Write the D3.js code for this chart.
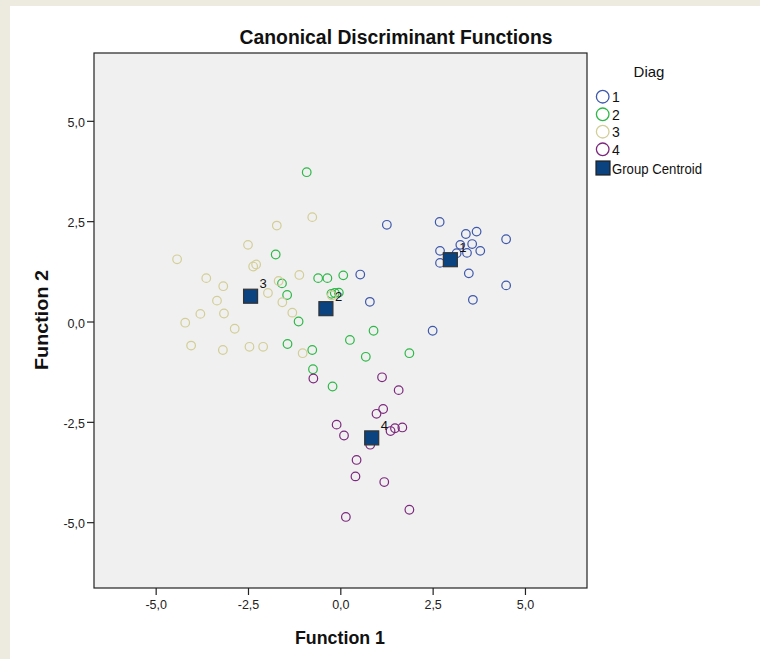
<!DOCTYPE html>
<html><head><meta charset="utf-8">
<script src="https://cdn.jsdelivr.net/npm/d3@7"></script>
<style>
html,body{margin:0;padding:0;background:#EDEAE0;}
svg{display:block;font-family:"Liberation Sans",Arial,sans-serif;}
</style></head>
<body>
<script>
// ---- data ----
const groups = ["1","2","3","4"];
const groupColors = ["#3E58AC","#2EB848","#D3CE97","#7C287D"];
const diag1 = [[1.26,2.41],[2.69,2.48],[3.40,2.18],[3.69,2.24],[4.49,2.05],[3.25,1.91],[3.57,1.93],[2.70,1.76],[3.15,1.70],[3.43,1.71],[3.79,1.76],[2.70,1.46],[3.48,1.20],[4.49,0.90],[0.54,1.17],[0.80,0.49],[3.59,0.54],[2.50,-0.23]];
const diag2 = [[-0.91,3.72],[-1.75,1.67],[-0.60,1.08],[-0.35,1.08],[0.08,1.15],[-1.58,0.95],[-1.44,0.66],[-0.24,0.69],[-0.15,0.71],[-0.04,0.72],[-1.13,0.00],[-1.43,-0.56],[-0.76,-0.71],[-0.74,-1.19],[0.26,-0.46],[0.90,-0.23],[0.69,-0.88],[1.87,-0.79],[-0.21,-1.62]];
const diag3 = [[-0.76,2.60],[-1.72,2.39],[-2.50,1.91],[-4.42,1.55],[-2.36,1.37],[-2.28,1.42],[-3.63,1.08],[-3.17,0.88],[-1.67,1.01],[-1.11,1.16],[-1.96,0.71],[-3.34,0.52],[-1.57,0.48],[-3.79,0.19],[-3.15,0.20],[-1.30,0.22],[-4.20,-0.03],[-2.86,-0.18],[-4.04,-0.60],[-3.18,-0.71],[-2.46,-0.63],[-2.09,-0.63],[-1.02,-0.79],[-0.23,0.65]];
const diag4 = [[-0.73,-1.42],[1.13,-1.39],[1.58,-1.71],[1.16,-2.18],[0.98,-2.30],[-0.10,-2.57],[0.10,-2.84],[1.36,-2.73],[1.48,-2.66],[1.68,-2.64],[0.81,-3.07],[0.44,-3.45],[0.41,-3.86],[1.19,-4.00],[1.87,-4.69],[0.15,-4.87]];
const centroids = [[2.98,1.54],[-0.39,0.32],[-2.43,0.63],[0.85,-2.90]];
const ticks = [-5,-2.5,0,2.5,5];
const tickLabels = ["-5,0","-2,5","0,0","2,5","5,0"];

const W=760,H=659;
const svg=d3.select("body").append("svg").attr("width",W).attr("height",H);
svg.append("rect").attr("x",0).attr("y",0).attr("width",W).attr("height",H).attr("fill","#EDEAE0");
svg.append("rect").attr("x",10).attr("y",6).attr("width",W-10).attr("height",H-6).attr("fill","#FFFFFF");

const L=94,R=587,T=53,B=588;
const x=d3.scaleLinear().domain([-6.67,6.68]).range([L,R]);
const y=d3.scaleLinear().domain([-6.64,6.69]).range([B,T]);

svg.append("rect").attr("x",L).attr("y",T).attr("width",R-L).attr("height",B-T)
  .attr("fill","#F0F0F0").attr("stroke","#222").attr("stroke-width",1.2);

// axes
const xAxis=d3.axisBottom(x).tickValues(ticks).tickSize(7).tickPadding(5)
  .tickFormat((d,i)=>tickLabels[i]);
const gx=svg.append("g").attr("transform",`translate(0,${B})`).call(xAxis);
gx.select(".domain").remove();
gx.selectAll("line").attr("stroke","#222").attr("stroke-width",1.2);
gx.selectAll("text").attr("font-size",12.5).attr("fill","#222").attr("font-family","Liberation Sans, Arial, sans-serif");

const yAxis=d3.axisLeft(y).tickValues(ticks).tickSize(7).tickPadding(2)
  .tickFormat((d,i)=>tickLabels[i]);
const gy=svg.append("g").attr("transform",`translate(${L},0)`).call(yAxis);
gy.select(".domain").remove();
gy.selectAll("line").attr("stroke","#222").attr("stroke-width",1.2);
gy.selectAll("text").attr("font-size",12.5).attr("fill","#222").attr("dy","0.45em").attr("font-family","Liberation Sans, Arial, sans-serif");

// points
const all=[diag1,diag2,diag3,diag4];
all.forEach((pts,gi)=>{
  svg.append("g").selectAll("circle").data(pts).join("circle")
    .attr("cx",d=>x(d[0])).attr("cy",d=>y(d[1])).attr("r",4.3)
    .attr("fill","none").attr("stroke",groupColors[gi]).attr("stroke-width",1.2);
});

// centroids
const cg=svg.append("g");
cg.selectAll("rect").data(centroids).join("rect")
  .attr("x",d=>x(d[0])-7).attr("y",d=>y(d[1])-7).attr("width",14).attr("height",14)
  .attr("fill","#0B4280").attr("stroke","#333").attr("stroke-width",1.2);
cg.selectAll("text").data(centroids).join("text")
  .attr("x",d=>x(d[0])+9).attr("y",d=>y(d[1])-8)
  .attr("font-size",13).attr("fill","#111").text((d,i)=>groups[i]);

// title & axis titles
svg.append("text").attr("x",396).attr("y",44).attr("text-anchor","middle")
  .attr("font-size",20).attr("font-weight","bold").attr("fill","#111")
  .attr("textLength",313).attr("lengthAdjust","spacingAndGlyphs")
  .text("Canonical Discriminant Functions");
svg.append("text").attr("x",340).attr("y",644).attr("text-anchor","middle")
  .attr("font-size",18).attr("font-weight","bold").attr("fill","#111")
  .attr("textLength",90).attr("lengthAdjust","spacingAndGlyphs")
  .text("Function 1");
svg.append("text").attr("transform","translate(48,320) rotate(-90)").attr("text-anchor","middle")
  .attr("font-size",18).attr("font-weight","bold").attr("fill","#111")
  .attr("textLength",100).attr("lengthAdjust","spacingAndGlyphs")
  .text("Function 2");

// legend
const lg=svg.append("g");
lg.append("text").attr("x",649).attr("y",77).attr("text-anchor","middle")
  .attr("font-size",15).attr("fill","#111").text("Diag");
const legY=[96.7,114.3,131.7,149.3];
groups.forEach((g,i)=>{
  lg.append("circle").attr("cx",602.7).attr("cy",legY[i]).attr("r",6.3)
    .attr("fill","none").attr("stroke",groupColors[i]).attr("stroke-width",1.3);
  lg.append("text").attr("x",612).attr("y",legY[i]+5.5).attr("font-size",14).attr("fill","#111").text(g);
});
lg.append("rect").attr("x",596).attr("y",161).attr("width",14).attr("height",14)
  .attr("fill","#0B4280").attr("stroke","#222").attr("stroke-width",1.2);
lg.append("text").attr("x",612).attr("y",173.5).attr("font-size",14).attr("fill","#111")
  .attr("textLength",90).attr("lengthAdjust","spacingAndGlyphs").text("Group Centroid");
</script>
</body></html>
